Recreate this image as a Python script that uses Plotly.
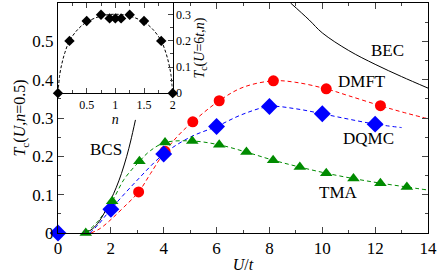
import plotly.graph_objects as go

# ---- data ----
dmft_U = [3.05, 4.05, 5.1, 6.1, 8.15, 10.15, 12.2]
dmft_T = [0.107, 0.213, 0.29, 0.345, 0.397, 0.376, 0.332]
dmft_fit_U = [1.25, 1.6, 2.0, 2.5, 3.05, 3.5, 4.05, 4.6, 5.1, 6.1, 7.0, 8.15, 9.0, 10.15, 11.0, 12.2, 13.0, 14.0]
dmft_fit_T = [0.0, 0.012, 0.035, 0.068, 0.107, 0.155, 0.213, 0.258, 0.29, 0.345, 0.38, 0.397, 0.393, 0.376, 0.358, 0.332, 0.316, 0.298]

dqmc_U = [0, 2, 4, 6, 8, 10, 12]
dqmc_T = [0.0, 0.062, 0.206, 0.278, 0.33, 0.311, 0.284]
dqmc_fit_U = [1.2, 1.5, 2.0, 3.0, 4.0, 5.0, 6.0, 7.0, 8.0, 9.0, 10.0, 11.0, 12.0, 13.0]
dqmc_fit_T = [0.0, 0.02, 0.062, 0.138, 0.206, 0.25, 0.278, 0.31, 0.33, 0.324, 0.311, 0.297, 0.284, 0.275]

tma_U = [1.05, 2.05, 3.08, 4.05, 5.08, 6.1, 7.13, 8.14, 9.15, 10.15, 11.18, 12.2, 13.2]
tma_T = [0.0, 0.083, 0.187, 0.236, 0.24, 0.23, 0.211, 0.19, 0.172, 0.156, 0.142, 0.13, 0.12]
tma_fit_U = [1.05, 1.5, 2.05, 2.5, 3.08, 3.5, 4.05, 5.08, 6.1, 7.13, 8.14, 9.15, 10.15, 11.18, 12.2, 13.2, 14.0]
tma_fit_T = [0.0, 0.03, 0.083, 0.14, 0.187, 0.215, 0.236, 0.24, 0.23, 0.211, 0.19, 0.172, 0.156, 0.142, 0.13, 0.12, 0.112]

bcs_U = [1.0, 1.25, 1.5, 1.75, 2.0, 2.2, 2.4, 2.6, 2.75, 2.93]
bcs_T = [0.0, 0.008, 0.025, 0.052, 0.087, 0.118, 0.155, 0.2, 0.24, 0.295]

bec_U = [8.8, 9.5, 10.0, 11.0, 12.0, 13.0, 14.0]
bec_T = [0.6, 0.556, 0.522, 0.476, 0.44, 0.408, 0.378]

inset_n = [0, 0.2, 0.5, 0.75, 0.9, 1.0, 1.1, 1.25, 1.5, 1.8, 2.0]
inset_T = [0.0, 0.2, 0.276, 0.3, 0.286, 0.286, 0.286, 0.3, 0.276, 0.2, 0.0]
inset_fit_n = [0, 0.03, 0.07, 0.12, 0.2, 0.35, 0.5, 0.75, 1.0, 1.25, 1.5, 1.65, 1.8, 1.88, 1.93, 1.97, 2.0]
inset_fit_T = [0.0, 0.07, 0.115, 0.155, 0.2, 0.245, 0.272, 0.295, 0.302, 0.295, 0.272, 0.245, 0.2, 0.155, 0.115, 0.07, 0.0]

x_ticks = [0, 2, 4, 6, 8, 10, 12, 14]
y_ticks = [0, 0.1, 0.2, 0.3, 0.4, 0.5]
y_ticktext = ["0", "0.1", "0.2", "0.3", "0.4", "0.5"]
inset_x_ticks = [0.5, 1, 1.5, 2]
inset_x_text = ["0.5", "1", "1.5", "2"]
inset_y_ticks = [0, 0.1, 0.2, 0.3]
inset_y_text = ["0", "0.1", "0.2", "0.3"]

labels = [("BEC", 12.45, 0.477), ("DMFT", 11.5, 0.395), ("DQMC", 11.75, 0.247),
          ("TMA", 10.6, 0.106), ("BCS", 1.8, 0.217)]

RED = "#ff0000"
BLUE = "#0000ff"
GREEN = "#008b00"
FONT = "Times New Roman, Liberation Serif, DejaVu Serif, serif"

fig = go.Figure()

# fits (dashed)
fig.add_trace(go.Scatter(x=dmft_fit_U, y=dmft_fit_T, mode="lines", line=dict(color=RED, width=1, dash="4px,3px", shape="spline"), showlegend=False))
fig.add_trace(go.Scatter(x=dqmc_fit_U, y=dqmc_fit_T, mode="lines", line=dict(color=BLUE, width=1, dash="4px,3px", shape="spline"), showlegend=False))
fig.add_trace(go.Scatter(x=tma_fit_U, y=tma_fit_T, mode="lines", line=dict(color=GREEN, width=1, dash="4px,3px", shape="spline"), showlegend=False))
fig.add_trace(go.Scatter(x=bcs_U, y=bcs_T, mode="lines", line=dict(color="black", width=1, shape="spline"), showlegend=False))
fig.add_trace(go.Scatter(x=bec_U, y=bec_T, mode="lines", line=dict(color="black", width=1, shape="spline"), showlegend=False))

# markers
fig.add_trace(go.Scatter(x=dmft_U, y=dmft_T, mode="markers", marker=dict(symbol="circle", size=11, color=RED), showlegend=False, cliponaxis=False))
fig.add_trace(go.Scatter(x=dqmc_U, y=dqmc_T, mode="markers", marker=dict(symbol="diamond", size=13, color=BLUE), showlegend=False, cliponaxis=False))
fig.add_trace(go.Scatter(x=tma_U, y=tma_T, mode="markers", marker=dict(symbol="triangle-up", size=11, color=GREEN), showlegend=False, cliponaxis=False))

# inset
fig.add_trace(go.Scatter(x=inset_fit_n, y=inset_fit_T, xaxis="x2", yaxis="y2", mode="lines",
                         line=dict(color="black", width=1, dash="3px,2px", shape="spline"), showlegend=False))
fig.add_trace(go.Scatter(x=inset_n, y=inset_T, xaxis="x2", yaxis="y2", mode="markers",
                         marker=dict(symbol="diamond", size=8, color="black"), showlegend=False, cliponaxis=False))

for txt, x, y in labels:
    fig.add_annotation(x=x, y=y, text=txt, showarrow=False, font=dict(family=FONT, size=17, color="black"))

fig.update_layout(
    width=438, height=273,
    margin=dict(l=58, r=10, t=3, b=40),
    paper_bgcolor="white", plot_bgcolor="white",
    font=dict(family=FONT, size=17, color="black"),
    xaxis=dict(range=[0, 14], tickmode="array", tickvals=x_ticks, ticks="inside", ticklen=6,
               showline=True, linecolor="black", linewidth=1, mirror="ticks", showgrid=False, zeroline=False,
               automargin=False,
               minor=dict(dtick=1, tick0=0, ticks="inside", ticklen=3, showgrid=False),
               title=dict(text="<i>U</i>/<i>t</i>", font=dict(family=FONT, size=16), standoff=4),
               tickfont=dict(family=FONT, size=17)),
    yaxis=dict(range=[0, 0.6], tickmode="array", tickvals=y_ticks, ticktext=y_ticktext, ticks="inside", ticklen=6,
               showline=True, linecolor="black", linewidth=1, mirror="ticks", showgrid=False, zeroline=False,
               automargin=False,
               minor=dict(dtick=0.05, tick0=0, ticks="inside", ticklen=3, showgrid=False),
               title=dict(text="<i>T</i><sub>c</sub>(<i>U</i>,<i>n</i>=0.5)", font=dict(family=FONT, size=16), standoff=2),
               tickfont=dict(family=FONT, size=17)),
    xaxis2=dict(domain=[0, 0.31], anchor="y2", range=[0, 2], tickmode="array", tickvals=inset_x_ticks,
                ticktext=inset_x_text, ticks="inside", ticklen=5, showline=True, linecolor="black", linewidth=1,
                mirror="ticks", showgrid=False, zeroline=False, automargin=False,
                minor=dict(dtick=0.25, tick0=0, ticks="inside", ticklen=3, showgrid=False),
                tickfont=dict(family=FONT, size=12),
                title=dict(text="<i>n</i>", font=dict(family=FONT, size=14), standoff=0)),
    yaxis2=dict(domain=[0.608, 1], anchor="x2", side="right", range=[0, 0.345], tickmode="array",
                tickvals=inset_y_ticks, ticktext=inset_y_text, ticks="inside", ticklen=5,
                showline=True, linecolor="black", linewidth=1, showgrid=False, zeroline=False, automargin=False,
                minor=dict(dtick=0.05, tick0=0, ticks="inside", ticklen=3, showgrid=False),
                tickfont=dict(family=FONT, size=12),
                title=dict(text="<i>T</i><sub>c</sub>(<i>U</i>=6<i>t</i>,<i>n</i>)", font=dict(family=FONT, size=14), standoff=4)),
)

fig.write_html("out.html", config={"displayModeBar": False},
               post_script="document.body.style.margin='0';document.body.style.padding='0';")
